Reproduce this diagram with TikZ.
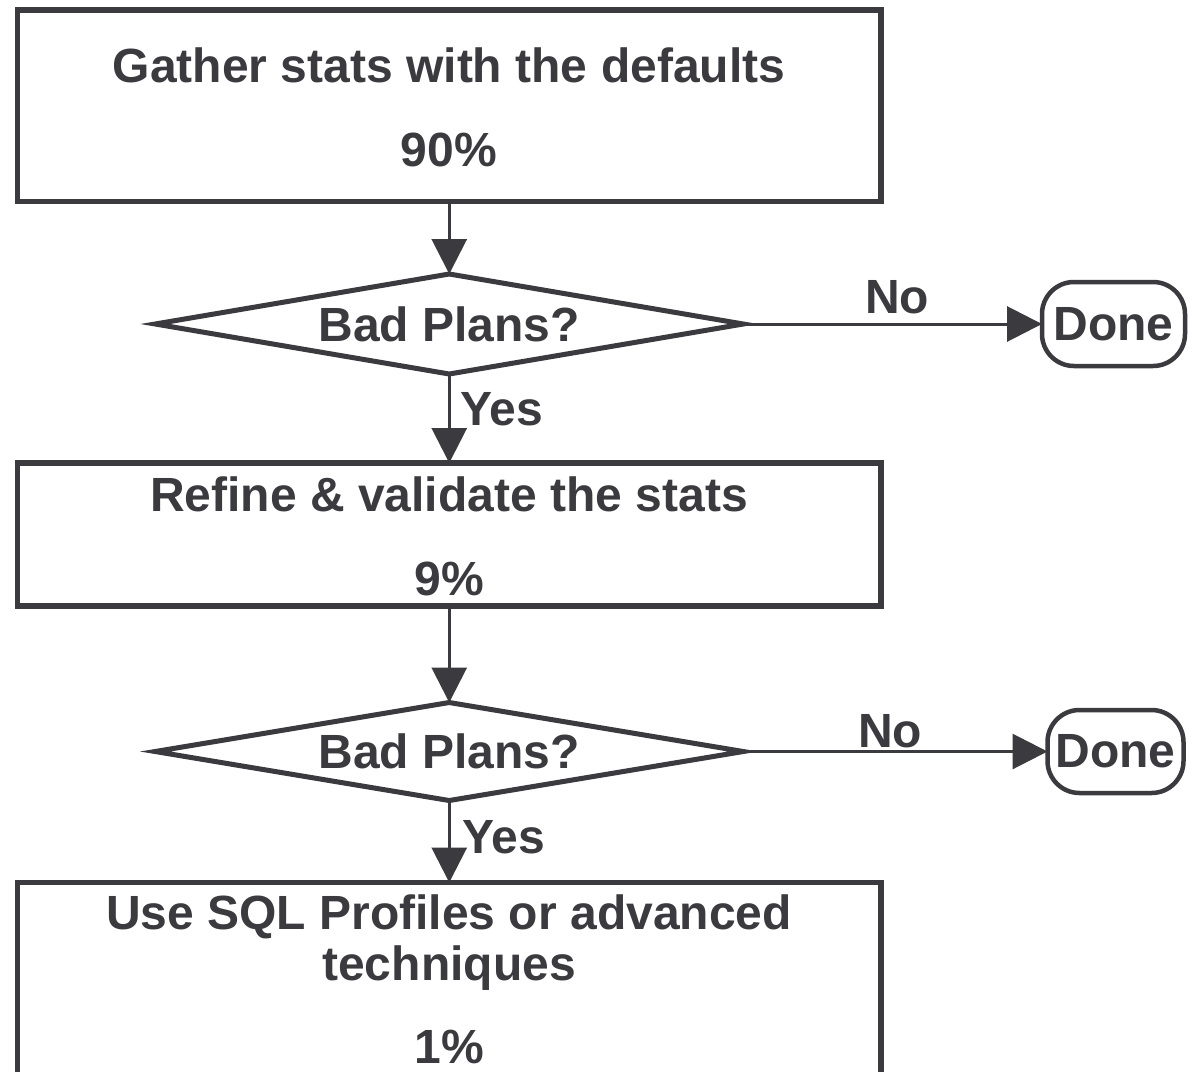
\documentclass[tikz,border=0pt]{standalone}
\usepackage{fontspec}
\setmainfont{Liberation Sans}
\usetikzlibrary{arrows.meta,shapes.geometric}
\definecolor{ink}{HTML}{3A3A3F}
\begin{document}
\begin{tikzpicture}[x=1pt,y=-1pt,
  every node/.style={outer sep=0pt, inner sep=0pt},
  box/.style={draw=ink, line width=5.5pt, rectangle, minimum width=863.5pt},
  dec/.style={draw=ink, line width=5pt, diamond, aspect=6, minimum width=588pt, text=ink, font=\fontsize{48}{58}\selectfont\bfseries},
  term/.style={draw=ink, line width=4.5pt, rounded corners=32pt, rectangle, text=ink, font=\fontsize{48}{58}\selectfont\bfseries},
  txt/.style={text=ink, font=\fontsize{48}{58}\selectfont\bfseries, anchor=base},
  lbl/.style={text=ink, font=\fontsize{48}{58}\selectfont\bfseries},
  conn/.style={draw=ink, line width=3pt, -{Triangle[length=35pt,width=35pt]}},
]
\useasboundingbox (0,0) rectangle (1193,1071);
\clip (0,0) rectangle (1193,1071);

% boxes
\node[box, minimum height=191.5pt] (box1) at (449.25,105.75) {};
\node[box, minimum height=143pt] (box2) at (449.25,534.5) {};
\node[box, minimum height=227.5pt] (box3) at (449.25,996.25) {};

% box texts
\node[txt] (t1a) at (449,82) {Gather stats with the defaults};
\node[txt] (t1b) at (449,166) {90\%};
\node[txt] (t2a) at (449,511) {Refine \& validate the stats};
\node[txt] (t2b) at (449,595) {9\%};
\node[txt] (t3a) at (449,929) {Use SQL Profiles or advanced};
\node[txt] (t3b) at (449,980) {techniques};
\node[txt] (t3c) at (449,1063) {1\%};

% decisions
\node[dec, minimum height=100pt] (d1) at (449.25,324) {Bad Plans?};
\node[dec, minimum height=98pt] (d2) at (449.25,751.5) {Bad Plans?};

% terminals
\node[term, minimum width=143pt, minimum height=84pt] (done1) at (1113.5,324) {Done};
\node[term, minimum width=136pt, minimum height=83pt] (done2) at (1115.5,751.5) {Done};

% connectors
\draw[conn] (box1.south) -- (d1.north);
\draw[conn] (d1.south) -- (box2.north);
\draw[conn] (box2.south) -- (d2.north);
\draw[conn] (d2.south) -- (box3.north);
\draw[conn] (d1.east) -- (done1.west);
\draw[conn] (d2.east) -- (done2.west);

% labels
\node[lbl, anchor=base] (no1) at (897,313) {No};
\node[lbl, anchor=base] (no2) at (890,747) {No};
\node[lbl, anchor=base west] (yes1) at (460,425) {Yes};
\node[lbl, anchor=base west] (yes2) at (462,853) {Yes};
\end{tikzpicture}
\end{document}
